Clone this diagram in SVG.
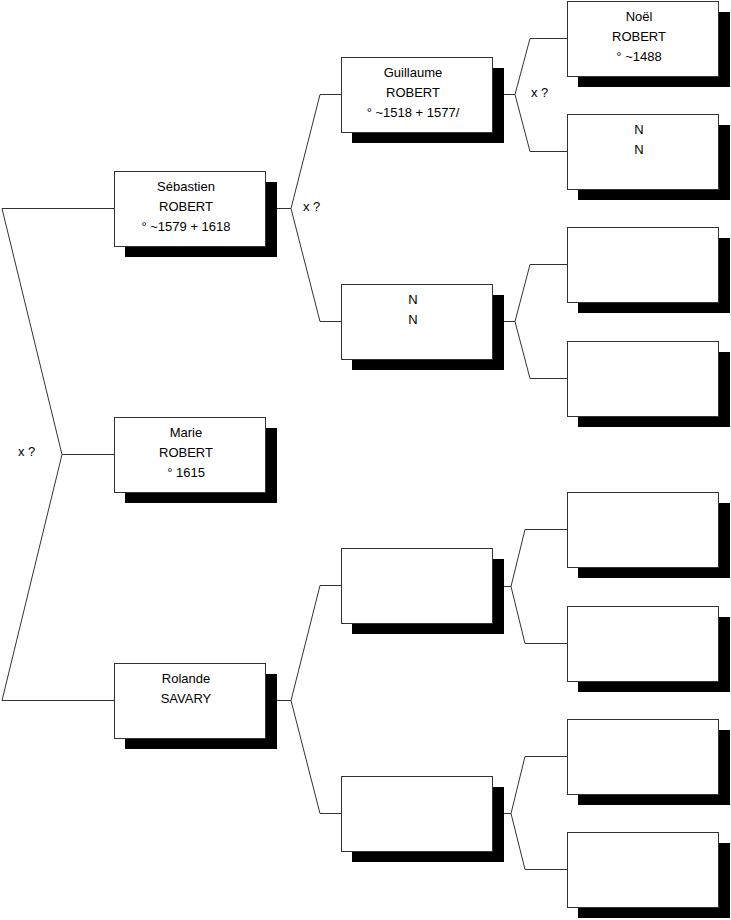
<svg xmlns="http://www.w3.org/2000/svg" width="731" height="920" viewBox="0 0 731 920">
<style>
.sh{fill:#000}
.bx{fill:#fff;stroke:#333;stroke-width:1}
.t{font-family:"Liberation Sans",Arial,sans-serif;font-size:13px;fill:#000;text-anchor:middle}
.l{font-family:"Liberation Sans",Arial,sans-serif;font-size:13px;fill:#000}
.c{fill:none;stroke:#333;stroke-width:1}
</style>
<defs>
<g id="box"><rect class="sh" x="11" y="11" width="152" height="75"/><rect class="bx" x="0.5" y="0.5" width="151" height="75"/></g>
</defs>
<rect width="731" height="920" fill="#fff"/>
<g id="connectors">
<polyline class="c" points="114,208.5 2,208.5 62,454.5 2,700.5 114,700.5"/>
<line class="c" x1="62" y1="454.5" x2="114" y2="454.5"/>
<line class="c" x1="266" y1="208.5" x2="291" y2="208.5"/>
<polyline class="c" points="341,94.5 320,94.5 291,208.5 320,321.5 341,321.5"/>
<line class="c" x1="266" y1="700.5" x2="291" y2="700.5"/>
<polyline class="c" points="341,585.5 320,585.5 291,700.5 320,813.5 341,813.5"/>
<line class="c" x1="492" y1="94.5" x2="515" y2="94.5"/>
<polyline class="c" points="567,38.5 530,38.5 515,94.5 530,151.5 567,151.5"/>
<line class="c" x1="492" y1="321.5" x2="515" y2="321.5"/>
<polyline class="c" points="567,264.5 530,264.5 515,321.5 530,378.5 567,378.5"/>
<line class="c" x1="492" y1="586.5" x2="511" y2="586.5"/>
<polyline class="c" points="567,529.5 525,529.5 511,586.5 525,643.5 567,643.5"/>
<line class="c" x1="492" y1="813.5" x2="511" y2="813.5"/>
<polyline class="c" points="567,756.5 525,756.5 511,813.5 525,869.5 567,869.5"/>
<text class="l" x="18" y="456">x ?</text>
<text class="l" x="303" y="211">x ?</text>
<text class="l" x="531" y="97">x ?</text>
</g>
<g id="sebastien"><use href="#box" x="114" y="171"/><text class="t" x="186" y="191">Sébastien</text><text class="t" x="186" y="211">ROBERT</text><text class="t" x="186" y="231">° ~1579 + 1618</text></g>
<g id="marie"><use href="#box" x="114" y="417"/><text class="t" x="186" y="437">Marie</text><text class="t" x="186" y="457">ROBERT</text><text class="t" x="186" y="477">° 1615</text></g>
<g id="rolande"><use href="#box" x="114" y="663"/><text class="t" x="186" y="683">Rolande</text><text class="t" x="186" y="703">SAVARY</text></g>
<g id="guillaume"><use href="#box" x="341" y="57"/><text class="t" x="413" y="77">Guillaume</text><text class="t" x="413" y="97">ROBERT</text><text class="t" x="413" y="117">° ~1518 + 1577/</text></g>
<g id="nn1"><use href="#box" x="341" y="284"/><text class="t" x="413" y="304">N</text><text class="t" x="413" y="324">N</text></g>
<g id="g2c"><use href="#box" x="341" y="548"/></g>
<g id="g2d"><use href="#box" x="341" y="776"/></g>
<g id="noel"><use href="#box" x="567" y="1"/><text class="t" x="639" y="21">Noël</text><text class="t" x="639" y="41">ROBERT</text><text class="t" x="639" y="61">° ~1488</text></g>
<g id="nn2"><use href="#box" x="567" y="114"/><text class="t" x="639" y="134">N</text><text class="t" x="639" y="154">N</text></g>
<g id="g3c"><use href="#box" x="567" y="227"/></g>
<g id="g3d"><use href="#box" x="567" y="341"/></g>
<g id="g3e"><use href="#box" x="567" y="492"/></g>
<g id="g3f"><use href="#box" x="567" y="606"/></g>
<g id="g3g"><use href="#box" x="567" y="719"/></g>
<g id="g3h"><use href="#box" x="567" y="832"/></g>
</svg>
